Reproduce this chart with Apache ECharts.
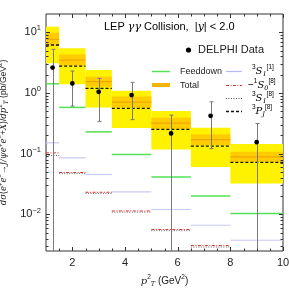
<!DOCTYPE html>
<html><head><meta charset="utf-8">
<script src="https://cdn.jsdelivr.net/npm/echarts@6/dist/echarts.min.js"></script>
<style>html,body{margin:0;padding:0;background:#fff}#c{width:289px;height:289px}</style>
</head><body><div id="c"></div>
<script>
// ---- data ----
const binLo = [1, 1.5, 2.5, 3.5, 5, 6.5, 8];
const binHi = [1.5, 2.5, 3.5, 5, 6.5, 8, 10];
const yellowLo = [3.08, 1.39, 0.579, 0.264, 0.117, 0.0607, 0.0323];
const yellowHi = [12.35, 5.44, 2.39, 1.087, 0.503, 0.267, 0.145];
const orangeLo = [5.93, 2.83, 1.275, 0.575, 0.259, 0.138, 0.074];
const orangeHi = [9.83, 4.30, 1.86, 0.873, 0.393, 0.210, 0.108];
const totalMid = [7.65, 3.49, 1.54, 0.708, 0.319, 0.1705, 0.0887];
const pJ8 = [6.17, 2.78, 1.19, 0.557, 0.251, 0.133, 0.0718];
const feeddown = [1.418, 0.579, 0.229, 0.0972, 0.0415, 0.0202, 0.01035];
const s1_1 = [0.151, 0.0855, 0.0455, 0.0235, 0.01205, 0.00664, 0.00376];
const s0_8 = [0.1033, 0.0491, 0.0232, 0.01142, 0.00564, 0.00307, 0.0016];
const s1_8 = [0.0936, 0.047, 0.0222, 0.0109, 0.0054, 0.0029, 0.0015];
const dataX = [1.25, 2, 3, 4.25, 5.75, 7.25, 9];
const dataY = [2.62, 1.44, 1.047, 0.924, 0.216, 0.421, 0.155];
const errLo = [0.001, 0.608, 0.338, 0.364, 0.001, 0.1212, 0.001];
const errHi = [5.24, 2.30, 1.74, 1.496, 0.432, 0.716, 0.315];
const xTicks = [2, 4, 6, 8, 10];
const xMinorTicks = [1.5, 2.5, 3, 3.5, 4.5, 5, 5.5, 6.5, 7, 7.5, 8.5, 9, 9.5];
const yTicks = [0.01, 0.1, 1, 10];
const yMinorMult = [2, 3, 4, 5, 6, 7, 8, 9];
const yDecades = [0.001, 0.01, 0.1, 1, 10];
const X_MIN = 1, X_MAX = 10, Y_MIN = 0.0025, Y_MAX = 20;

const chart = echarts.init(document.getElementById('c'), null, {renderer: 'canvas'});

function rectSeries(lo, hi, color, z) {
  return {
    type: 'custom', clip: true, silent: true, z: z,
    data: lo.map((v, i) => [binLo[i], binHi[i], v, hi[i]]),
    encode: {x: [0, 1], y: [2, 3]},
    renderItem: (params, api) => {
      const a = api.coord([api.value(0), api.value(3)]);
      const b = api.coord([api.value(1), api.value(2)]);
      return {type: 'rect', shape: {x: a[0], y: a[1], width: b[0] - a[0], height: b[1] - a[1]},
        style: {fill: color}};
    }
  };
}
function segSeries(vals, style, z) {
  return {
    type: 'custom', clip: true, silent: true, z: z,
    data: vals.map((v, i) => [binLo[i], binHi[i], v]),
    encode: {x: [0, 1], y: 2},
    renderItem: (params, api) => {
      const a = api.coord([api.value(0), api.value(2)]);
      const b = api.coord([api.value(1), api.value(2)]);
      return {type: 'line', shape: {x1: a[0], y1: a[1], x2: b[0], y2: b[1]},
        style: Object.assign({fill: null}, style)};
    }
  };
}

// tick decoration data
const tickData = [];
xTicks.forEach(v => tickData.push([v, 1, 0]));
xMinorTicks.forEach(v => tickData.push([v, 1, 1]));
yTicks.forEach(v => tickData.push([2, v, 2]));
yDecades.forEach(d => yMinorMult.forEach(m => {
  const v = d * m;
  if (v > Y_MIN && v < Y_MAX) tickData.push([2, v, 3]);
}));

const tickSeries = {
  type: 'custom', silent: true, z: 20,
  data: tickData, encode: {x: 0, y: 1},
  renderItem: (params, api) => {
    const cs = params.coordSys;
    const k = api.value(2);
    const st = {stroke: '#333', lineWidth: 1};
    if (k < 2) {
      const px = Math.round(api.coord([api.value(0), 1])[0]) + 0.5;
      const len = k === 0 ? 4 : 2.5;
      const yb = cs.y + cs.height, yt = cs.y;
      return {type: 'group', children: [
        {type: 'line', shape: {x1: px, y1: yb, x2: px, y2: yb - len}, style: st},
        {type: 'line', shape: {x1: px, y1: yt, x2: px, y2: yt + len}, style: st}
      ]};
    } else {
      const py = Math.round(api.coord([2, api.value(1)])[1]) + 0.5;
      const len = k === 2 ? 4 : 2.5;
      const xl = cs.x, xr = cs.x + cs.width;
      return {type: 'group', children: [
        {type: 'line', shape: {x1: xl, y1: py, x2: xl + len, y2: py}, style: st},
        {type: 'line', shape: {x1: xr, y1: py, x2: xr - len, y2: py}, style: st}
      ]};
    }
  }
};

const errSeries = {
  type: 'custom', clip: true, silent: true, z: 15,
  data: dataX.map((x, i) => [x, dataY[i], errLo[i], errHi[i]]),
  encode: {x: 0, y: [1, 2, 3]},
  renderItem: (params, api) => {
    const c = api.coord([api.value(0), api.value(1)]);
    const lo = api.coord([api.value(0), api.value(2)]);
    const hi = api.coord([api.value(0), api.value(3)]);
    const x = Math.round(c[0]) + 0.5;
    const st = {stroke: '#7a7a7a', lineWidth: 1};
    return {type: 'group', children: [
      {type: 'line', shape: {x1: x, y1: lo[1], x2: x, y2: hi[1]}, style: st},
      {type: 'line', shape: {x1: x - 2, y1: hi[1], x2: x + 2, y2: hi[1]}, style: st},
      {type: 'line', shape: {x1: x - 2, y1: lo[1], x2: x + 2, y2: lo[1]}, style: st},
      {type: 'circle', shape: {cx: c[0], cy: c[1], r: 2.4}, style: {fill: '#000'}}
    ]};
  }
};

const FONT = 'Liberation Sans';
function mkRich(fs, ss) {
  return {
    n: {fontSize: fs, fontFamily: FONT, color: '#222'},
    i: {fontSize: fs, fontFamily: 'DejaVu Serif', fontStyle: 'italic', color: '#222'},
    sp: {fontSize: ss, fontFamily: FONT, color: '#222', padding: [0, 0, Math.round(ss), 0]},
    sb: {fontSize: ss, fontFamily: 'DejaVu Serif', fontStyle: 'italic', color: '#222', padding: [Math.round(ss * 0.9), 0, 0, 0]}
  };
}
const supRich = mkRich(10, 6.5);
const yNameRich = mkRich(8.6, 6);

function lbl(x, y, text, size) {
  return {type: 'text', x: x, y: y, silent: true,
    style: {text: text, fill: '#222', font: (size || 10) + 'px "' + FONT + '"', verticalAlign: 'middle', align: 'left'}};
}
function mathLbl(x, y, text) {
  return {type: 'text', x: x, y: y, silent: true,
    style: {text: text, rich: supRich, verticalAlign: 'middle', align: 'left'}};
}

const option = {
  animation: false,
  backgroundColor: '#fff',
  grid: {left: 46, right: 6, top: 14, bottom: 38, containLabel: false, outerBoundsMode: 'none',
    show: true, borderColor: '#333', borderWidth: 1, backgroundColor: 'transparent'},
  xAxis: {
    type: 'value', min: X_MIN, max: X_MAX, interval: 1,
    axisLine: {show: false}, axisTick: {show: false}, splitLine: {show: false},
    axisLabel: {interval: 0, margin: 6, fontSize: 11, fontFamily: FONT, color: '#222',
      formatter: v => (xTicks.indexOf(v) >= 0 ? String(v) : '')},
    name: '{i|p}{sp|2}{sb|T}{n| (GeV}{sp|2}{n|)}',
    nameLocation: 'middle', nameGap: 23,
    nameTextStyle: {rich: supRich}
  },
  yAxis: {
    type: 'log', logBase: 10, min: Y_MIN, max: Y_MAX,
    axisLine: {show: false}, axisTick: {show: false}, splitLine: {show: false}, minorTick: {show: false},
    axisLabel: {margin: 5, formatter: v => {
      const l = Math.log10(v), e = Math.round(l);
      if (Math.abs(l - e) > 1e-6) return '';
      return '{b|10}{s|' + (e < 0 ? '\u2212' + (-e) : e) + '}';
    }, rich: {
      b: {fontSize: 11, fontFamily: FONT, color: '#222'},
      s: {fontSize: 7.5, fontFamily: FONT, color: '#222', padding: [0, 0, 8, 0]}
    }},
    name: '{i|d\u03c3}{n|(}{i|e}{sp|+}{i|e}{sp|\u2212}{n|\u2192}{i|J/\u03c8e}{sp|+}{i|e}{sp|\u2212}{n|+}{i|X}{n|)/}{i|dp}{sp|2}{sb|T}{n| (pb/GeV}{sp|2}{n|)}',
    nameLocation: 'middle', nameRotate: 90, nameGap: 27,
    nameTextStyle: {rich: yNameRich}
  },
  graphic: [
    {type: 'text', x: 104, y: 27, silent: true, style: {
      text: '{n|LEP }{i|\u03b3\u03b3}{n| Collision,  |}{i|y}{n|| < 2.0}', verticalAlign: 'middle',
      rich: {n: {fontSize: 11, fontFamily: FONT, color: '#222'}, i: {fontSize: 11, fontFamily: 'DejaVu Serif', fontStyle: 'italic', color: '#222'}}}},
    {type: 'circle', shape: {cx: 188.5, cy: 50, r: 2.6}, style: {fill: '#000'}, silent: true},
    lbl(198, 50, 'DELPHI Data', 11),
    {type: 'line', shape: {x1: 152, y1: 71.5, x2: 170, y2: 71.5}, style: {stroke: '#55e055', lineWidth: 1.5}, silent: true},
    lbl(180, 72, 'Feeddown', 9),
    {type: 'rect', shape: {x: 152, y: 83, width: 18, height: 4}, style: {fill: '#f5b400'}, silent: true},
    lbl(180, 85.5, 'Total', 9),
    {type: 'line', shape: {x1: 226, y1: 71.5, x2: 242, y2: 71.5}, style: {stroke: '#b8b8f0', lineWidth: 1.2}, silent: true},
    mathLbl(252, 71, '{sp|3}{i|S}{sb|1}{sp|[1]}'),
    {type: 'line', shape: {x1: 226, y1: 85.5, x2: 242, y2: 85.5}, style: {stroke: '#e03030', lineWidth: 1, lineDash: [3, 1.5, 1, 1.5]}, silent: true},
    mathLbl(248, 85, '{n|\u2212}{sp|1}{i|S}{sb|0}{sp|[8]}'),
    {type: 'line', shape: {x1: 226, y1: 98.5, x2: 242, y2: 98.5}, style: {stroke: '#555', lineWidth: 1, lineDash: [1, 1.5]}, silent: true},
    mathLbl(252, 98, '{sp|3}{i|S}{sb|1}{sp|[8]}'),
    {type: 'line', shape: {x1: 226, y1: 111.5, x2: 242, y2: 111.5}, style: {stroke: '#111', lineWidth: 1.3, lineDash: [3, 2]}, silent: true},
    mathLbl(252, 111, '{sp|3}{i|P}{sb|J}{sp|[8]}')
  ],
  series: [
    rectSeries(yellowLo, yellowHi, '#fff200', 1),
    rectSeries(orangeLo, orangeHi, '#ffcc00', 2),
    segSeries(totalMid, {stroke: '#f0a800', lineWidth: 1.2}, 3),
    segSeries(pJ8, {stroke: '#111', lineWidth: 1.3, lineDash: [3, 2]}, 4),
    segSeries(feeddown, {stroke: '#55e055', lineWidth: 1.5}, 5),
    segSeries(s1_1, {stroke: '#c8c8f5', lineWidth: 1.2}, 5),
    segSeries(s1_8, {stroke: '#666', lineWidth: 1, lineDash: [1, 1.5]}, 5),
    segSeries(s0_8, {stroke: '#e03030', lineWidth: 1, lineDash: [3, 1.5, 1, 1.5]}, 6),
    errSeries,
    tickSeries
  ]
};
chart.setOption(option);
</script></body></html>
